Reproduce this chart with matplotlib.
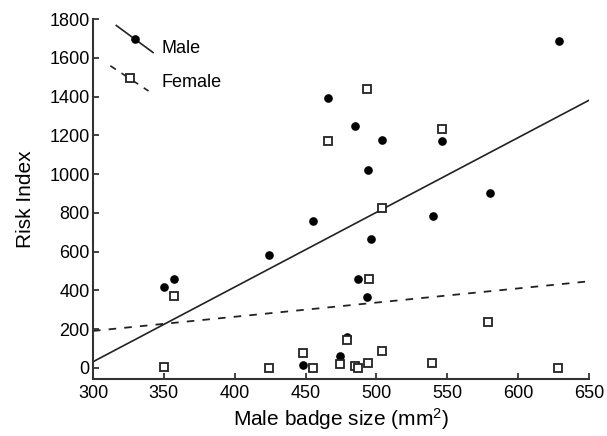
import matplotlib
matplotlib.use("Agg")
import matplotlib.pyplot as plt

plt.rcParams["font.family"] = ["Liberation Sans", "DejaVu Sans"]
plt.rcParams["mathtext.fontset"] = "custom"
plt.rcParams["mathtext.rm"] = "Liberation Sans"
plt.rcParams["mathtext.it"] = "Liberation Sans"

# machos (circulos negros)
male_x = [350, 357, 424, 448, 455, 466, 474, 479, 485, 487, 493, 494, 496, 504, 540, 546, 580, 629]
male_y = [416, 457, 582, 15, 758, 1390, 62, 160, 1249, 457, 364, 1021, 663, 1175, 785, 1172, 900, 1686]

# hembras (cuadrados blancos)
female_x = [350, 357, 424, 448, 455, 466, 474, 479, 485, 487, 493, 494, 495, 504, 504, 539, 546, 579, 628]
female_y = [4, 371, 0, 76, 0, 1170, 20, 142, 12, 0, 1438, 24, 457, 88, 823, 24, 1232, 239, 0]

# rectas de regresion
fit_x = [300, 650]
male_fit = [32, 1381]
female_fit = [191, 447]

xticks = [300, 350, 400, 450, 500, 550, 600, 650]
yticks = [0, 200, 400, 600, 800, 1000, 1200, 1400, 1600, 1800]

fig = plt.figure(figsize=(6.07, 4.36), dpi=100)
ax = fig.add_axes([0.1532, 0.1307, 0.8172, 0.8257])

ax.plot(fit_x, male_fit, color="#222222", lw=1.2)
ax.plot(fit_x, female_fit, color="#222222", lw=1.3, ls=(0, (4.2, 4.5)))
ax.plot(male_x, male_y, "o", color="black", ms=5.2, ls="none")
ax.plot(female_x, female_y, "s", mfc="white", mec="#222222", mew=1.3, ms=5.2, ls="none")

# leyenda con lineas diagonales
t = ax.transAxes
ax.plot([0.047, 0.121], [0.982, 0.907], color="#222222", lw=1.2, transform=t, clip_on=False)
ax.plot([0.084], [0.944], "o", color="black", ms=5.2, transform=t, clip_on=False)
ax.plot([0.035, 0.112], [0.87, 0.80], color="#222222", lw=1.2, ls=(0, (4, 4)), transform=t, clip_on=False)
ax.plot([0.075], [0.836], "s", mfc="white", mec="#222222", mew=1.3, ms=5.2, transform=t, clip_on=False)
ax.text(0.138, 0.918, "Male", transform=t, fontsize=13, va="center")
ax.text(0.138, 0.825, "Female", transform=t, fontsize=13, va="center")

ax.set_xlim(300, 650)
ax.set_ylim(-57, 1800)
ax.set_xticks(xticks)
ax.set_yticks(yticks)
ax.tick_params(direction="in", length=4, width=1.2, labelsize=13, colors="#222222", labelcolor="black")
ax.tick_params(axis="y", pad=2.5)
ax.tick_params(axis="x", pad=4.5)
ax.spines["top"].set_visible(False)
ax.spines["right"].set_visible(False)
for s in ["left", "bottom"]:
    ax.spines[s].set_linewidth(1.5)
    ax.spines[s].set_color("#333333")

ax.set_xlabel("Male badge size (mm$^{2}$)", fontsize=15, labelpad=3)
ax.set_ylabel("Risk Index", fontsize=15, labelpad=10)

plt.savefig("out.png")
